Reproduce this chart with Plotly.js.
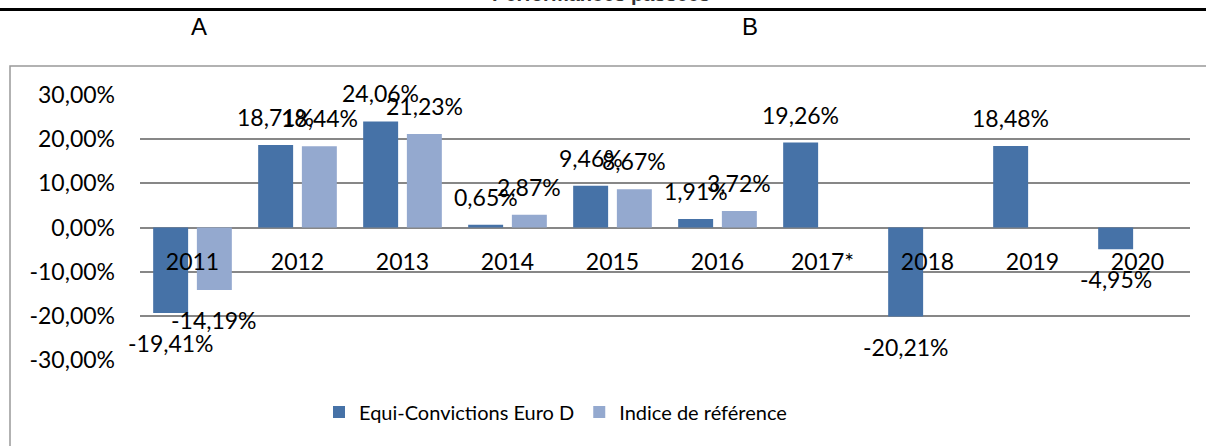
<!DOCTYPE html>
<html>
<head>
<meta charset="utf-8">
<script src="https://cdn.plot.ly/plotly-3.0.1.min.js"></script>
<style>
  html, body { margin: 0; padding: 0; background: #fff; }
  #chart { width: 1206px; height: 446px; }
</style>
</head>
<body>
<div id="chart"></div>
<script>
const categories = ['2011', '2012', '2013', '2014', '2015', '2016', '2017*', '2018', '2019', '2020'];
const fundName = 'Equi-Convictions Euro D';
const fundValues = [-19.41, 18.71, 24.06, 0.65, 9.46, 1.91, 19.26, -20.21, 18.48, -4.95];
const indexName = 'Indice de référence';
const indexValues = [-14.19, 18.44, 21.23, 2.87, 8.67, 3.72, null, null, null, null];
const yTickVals = [-30, -20, -10, 0, 10, 20, 30];
const yTickText = ['-30,00%', '-20,00%', '-10,00%', '0,00%', '10,00%', '20,00%', '30,00%'];
const headerTitle = 'Performances passées';
const headerLabels = ['A', 'B'];

const FUND_COLOR = '#4672A7';
const INDEX_COLOR = '#94A9CF';
const GRID = '#878787';
const FONT = 'Lato, "Open Sans", sans-serif';

function fmt(v) { return v.toFixed(2).replace('.', ',') + '%'; }

const traces = [
  { type: 'bar', name: fundName, x: categories, y: fundValues,
    marker: { color: FUND_COLOR, line: { width: 0 } }, hoverinfo: 'none' },
  { type: 'bar', name: indexName, x: categories, y: indexValues,
    marker: { color: INDEX_COLOR, line: { width: 0 } }, hoverinfo: 'none' }
];

const L = 140, R = 16, T = 95, B = 86, W = 1206, H = 446;
const pw = W - L - R, ph = H - T - B;
const px = X => (X - L) / pw;
const py = Y => (H - B - Y) / ph;

const annotations = [];
[fundValues, indexValues].forEach((vals, s) => {
  vals.forEach((v, j) => {
    if (v === null) return;
    annotations.push({
      xref: 'x', yref: 'y', x: j, y: v,
      xshift: s === 0 ? -21.85 : 21.85,
      yshift: v >= 0 ? 12 : -14,
      yanchor: v >= 0 ? 'bottom' : 'top',
      xanchor: 'center',
      text: fmt(v), showarrow: false,
      font: { family: FONT, size: 23, color: '#000' }
    });
  });
});
annotations.push({ xref: 'paper', yref: 'paper', x: px(601), y: py(6), yshift: -1, xanchor: 'center', yanchor: 'bottom',
  text: '<b>' + headerTitle + '</b>', showarrow: false,
  font: { family: '"Liberation Sans", Arial, sans-serif', size: 20, color: '#333' } });
annotations.push({ xref: 'paper', yref: 'paper', x: px(199), y: py(26), xanchor: 'center', yanchor: 'middle',
  text: headerLabels[0], showarrow: false,
  font: { family: '"Liberation Sans", Arial, sans-serif', size: 24, color: '#000' } });
annotations.push({ xref: 'paper', yref: 'paper', x: px(750), y: py(26), xanchor: 'center', yanchor: 'middle',
  text: headerLabels[1], showarrow: false,
  font: { family: '"Liberation Sans", Arial, sans-serif', size: 24, color: '#000' } });

const shapes = [
  { type: 'line', xref: 'paper', yref: 'paper', x0: px(-20), x1: px(W + 20), y0: py(9.5), y1: py(9.5),
    line: { color: '#000', width: 3 } },
  { type: 'rect', xref: 'paper', yref: 'paper', x0: px(10), x1: px(W + 20), y0: py(66), y1: py(H + 20),
    line: { color: '#999999', width: 1.5 }, fillcolor: 'rgba(0,0,0,0)', layer: 'below' }
];

const layout = {
  width: W, height: H,
  margin: { l: L, r: R, t: T, b: B, pad: 0 },
  paper_bgcolor: '#fff', plot_bgcolor: '#fff',
  font: { family: FONT, size: 23, color: '#000' },
  barmode: 'group', bargap: 0.1676, bargroupgap: 0.2,
  showlegend: true,
  legend: { orientation: 'h', x: px(319), xanchor: 'left', y: py(412), yanchor: 'middle',
    font: { family: FONT, size: 20, color: '#000' }, bgcolor: 'rgba(0,0,0,0)', traceorder: 'normal' },
  xaxis: { type: 'category', anchor: 'free', position: 0.5, showline: false, showgrid: false,
    zeroline: false, ticks: '', ticklabelstandoff: 18, tickfont: { family: FONT, size: 23, color: '#000' },
    range: [-0.5, categories.length - 0.5], fixedrange: true },
  yaxis: { range: [-30.05, 30.05], tickvals: yTickVals, ticktext: yTickText,
    showgrid: true, gridcolor: GRID, gridwidth: 2,
    zeroline: true, zerolinecolor: GRID, zerolinewidth: 2,
    showline: false, ticks: '', ticklabelstandoff: 24,
    tickfont: { family: FONT, size: 23, color: '#000' }, fixedrange: true },
  annotations: annotations,
  shapes: shapes,
  hovermode: false
};

Plotly.newPlot('chart', traces, layout, { displayModeBar: false, staticPlot: true });
</script>
</body>
</html>
